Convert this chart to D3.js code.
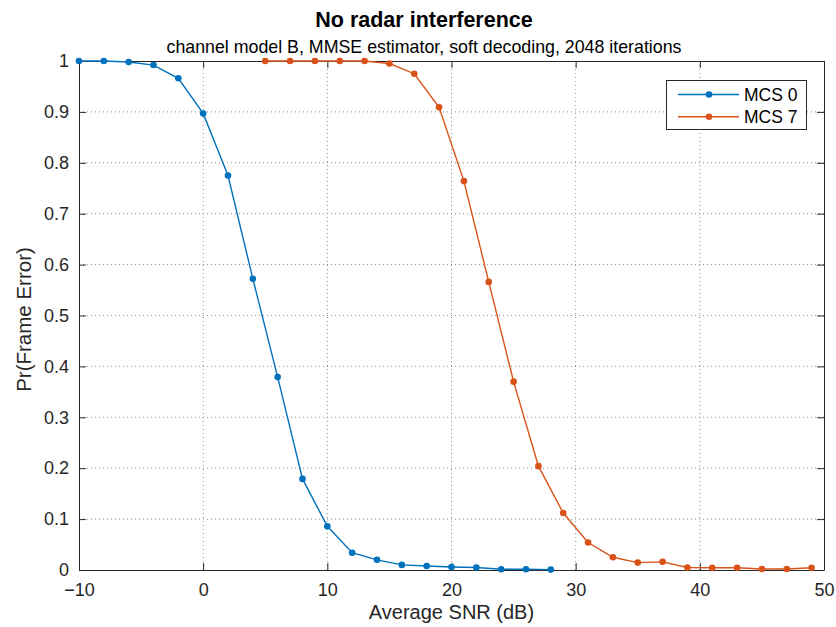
<!DOCTYPE html>
<html>
<head>
<meta charset="utf-8">
<script src="https://cdn.jsdelivr.net/npm/d3@7"></script>
<style>
  body { margin: 0; background: #fff; }
  text { font-family: "Liberation Sans", Arial, sans-serif; }
</style>
</head>
<body>
<svg id="chart" width="836" height="627"></svg>
<script>
const snrMCS0 = [-10, -8, -6, -4, -2, 0, 2, 4, 6, 8, 10, 12, 14, 16, 18, 20, 22, 24, 26, 28];
const perMCS0 = [1.0, 1.0, 0.998, 0.992, 0.966, 0.897, 0.775, 0.572, 0.379, 0.179, 0.086, 0.034, 0.020, 0.010, 0.008, 0.006, 0.005, 0.0015, 0.0015, 0.0008];
const snrMCS7 = [5, 7, 9, 11, 13, 15, 17, 19, 21, 23, 25, 27, 29, 31, 33, 35, 37, 39, 41, 43, 45, 47, 49];
const perMCS7 = [1.0, 1.0, 1.0, 1.0, 1.0, 0.995, 0.975, 0.909, 0.764, 0.566, 0.370, 0.204, 0.112, 0.054, 0.025, 0.0145, 0.016, 0.005, 0.0045, 0.0045, 0.002, 0.002, 0.0045];
const xTicks = [-10, 0, 10, 20, 30, 40, 50];
const yTicks = [0, 0.1, 0.2, 0.3, 0.4, 0.5, 0.6, 0.7, 0.8, 0.9, 1];
const seriesNames = ["MCS 0", "MCS 7"];
const seriesColors = ["#0072BD", "#D95319"];

const svg = d3.select("#chart");
const L = 79, R = 824, T = 61, B = 570;
const x = d3.scaleLinear().domain([-10, 50]).range([L, R]);
const y = d3.scaleLinear().domain([0, 1]).range([B, T]);
const axisColor = "#262626";
const FONT = "'Liberation Sans', Arial, sans-serif";

// grid
const grid = svg.append("g");
xTicks.forEach(t => {
  if (t === -10 || t === 50) return;
  grid.append("line").attr("x1", x(t)).attr("x2", x(t)).attr("y1", T).attr("y2", B)
    .attr("stroke", "#8c8c8c").attr("stroke-width", 1).attr("stroke-dasharray", "1,3");
});
yTicks.forEach(t => {
  if (t === 0 || t === 1) return;
  grid.append("line").attr("x1", L).attr("x2", R).attr("y1", y(t)).attr("y2", y(t))
    .attr("stroke", "#8c8c8c").attr("stroke-width", 1).attr("stroke-dasharray", "1,3");
});

// axes
const fmtY = d => d === 0 || d === 1 ? String(d) : d.toFixed(1);
const xAxis = svg.append("g").attr("transform", `translate(0,${B})`)
  .call(d3.axisBottom(x).tickValues(xTicks).tickSizeInner(-7).tickSizeOuter(0).tickPadding(13).tickFormat(d3.format("d")));
const xAxisTop = svg.append("g").attr("transform", `translate(0,${T})`)
  .call(d3.axisTop(x).tickValues(xTicks).tickSizeInner(-7).tickSizeOuter(0).tickFormat(""));
const yAxis = svg.append("g").attr("transform", `translate(${L},0)`)
  .call(d3.axisLeft(y).tickValues(yTicks).tickSizeInner(-7).tickSizeOuter(0).tickPadding(10).tickFormat(fmtY));
const yAxisRight = svg.append("g").attr("transform", `translate(${R},0)`)
  .call(d3.axisRight(y).tickValues(yTicks).tickSizeInner(-7).tickSizeOuter(0).tickFormat(""));
[xAxis, xAxisTop, yAxis, yAxisRight].forEach(a => {
  a.attr("font-size", 18).attr("font-family", FONT);
  a.selectAll("path").attr("stroke", axisColor).attr("stroke-width", 1);
  a.selectAll("line").attr("stroke", axisColor).attr("stroke-width", 1);
  a.selectAll("text").attr("fill", axisColor).attr("font-size", 18).attr("font-family", FONT);
});
xAxis.selectAll("text").attr("dy", "0.71em");

// lines
const line = d3.line().x(d => x(d[0])).y(d => y(d[1]));
const data = [
  d3.zip(snrMCS0, perMCS0),
  d3.zip(snrMCS7, perMCS7)
];
data.forEach((pts, i) => {
  svg.append("path").datum(pts).attr("d", line).attr("fill", "none")
    .attr("stroke", seriesColors[i]).attr("stroke-width", 1.4);
  svg.append("g").selectAll("circle").data(pts).join("circle")
    .attr("cx", d => x(d[0])).attr("cy", d => y(d[1])).attr("r", 3.3)
    .attr("fill", seriesColors[i]);
});

// titles
const cx = 424;
svg.append("text").attr("x", cx).attr("y", 27).attr("text-anchor", "middle")
  .attr("font-size", 21.5).attr("font-weight", "bold").attr("fill", "#000").text("No radar interference");
svg.append("text").attr("x", cx).attr("y", 53).attr("text-anchor", "middle")
  .attr("font-size", 17.8).attr("fill", "#000").text("channel model B, MMSE estimator, soft decoding, 2048 iterations");
svg.append("text").attr("x", (L + R) / 2).attr("y", 619).attr("text-anchor", "middle")
  .attr("font-size", 20).attr("fill", axisColor).text("Average SNR (dB)");
svg.append("text").attr("transform", `translate(31,${(T + B) / 2 + 4}) rotate(-90)`).attr("text-anchor", "middle")
  .attr("font-size", 20.5).attr("fill", axisColor).text("Pr(Frame Error)");

// legend
const lg = svg.append("g");
lg.append("rect").attr("x", 666.5).attr("y", 80.5).attr("width", 140).attr("height", 49)
  .attr("fill", "#fff").attr("stroke", axisColor).attr("stroke-width", 1);
seriesNames.forEach((name, i) => {
  const yy = 94.5 + i * 22.3;
  lg.append("line").attr("x1", 678).attr("x2", 739).attr("y1", yy).attr("y2", yy)
    .attr("stroke", seriesColors[i]).attr("stroke-width", 1.4);
  lg.append("circle").attr("cx", 709).attr("cy", yy).attr("r", 3.3).attr("fill", seriesColors[i]);
  lg.append("text").attr("x", 744).attr("y", yy).attr("dy", "0.36em").attr("font-size", 17.5)
    .attr("fill", "#000").text(name);
});
</script>
</body>
</html>
